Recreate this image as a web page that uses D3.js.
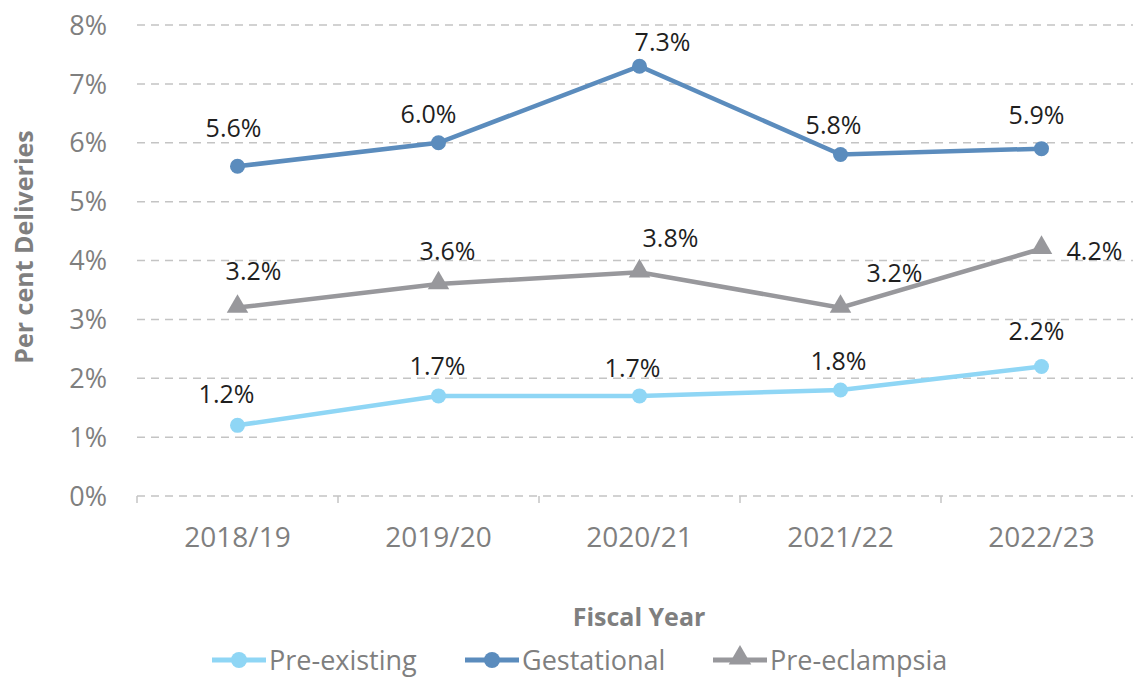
<!DOCTYPE html>
<html>
<head>
<meta charset="utf-8">
<script src="https://cdn.jsdelivr.net/npm/d3@7"></script>
<style>
  body { margin: 0; background: #fff; }
  text { font-family: "Open Sans", sans-serif; }
</style>
</head>
<body>
<svg id="chart"></svg>
<script>
const years = ["2018/19", "2019/20", "2020/21", "2021/22", "2022/23"];
const preExisting = [1.2, 1.7, 1.7, 1.8, 2.2];
const gestational = [5.6, 6.0, 7.3, 5.8, 5.9];
const preEclampsia = [3.2, 3.6, 3.8, 3.2, 4.2];
const yTicks = [0, 1, 2, 3, 4, 5, 6, 7, 8];

const width = 1133;
const height = 677;
const margin = {top: 25, right: -9, bottom: 181, left: 137};

const svg = d3.select("#chart")
    .attr("width", width)
    .attr("height", height);

const x = d3.scaleBand()
    .domain(years)
    .range([margin.left, width - margin.right]);

const y = d3.scaleLinear()
    .domain([0, 8])
    .range([height - margin.bottom, margin.top]);

// gridlines
svg.append("g")
    .selectAll("line")
    .data(yTicks)
    .enter()
    .append("line")
    .attr("x1", margin.left)
    .attr("x2", width)
    .attr("y1", d => y(d))
    .attr("y2", d => y(d))
    .attr("stroke", "#c4c4c4")
    .attr("stroke-width", 1.5)
    .attr("stroke-dasharray", "8,6");

// y tick labels
svg.append("g")
    .selectAll("text")
    .data(yTicks)
    .enter()
    .append("text")
    .attr("x", 107)
    .attr("y", d => y(d))
    .attr("dy", "0.36em")
    .attr("text-anchor", "end")
    .attr("font-size", "27px")
    .attr("fill", "#7f7f7f")
    .text(d => d + "%");

// x axis ticks + labels
const xTickPos = years.map(d => x(d)).concat([width - margin.right]);
svg.append("g")
    .selectAll("line")
    .data(xTickPos)
    .enter()
    .append("line")
    .attr("x1", d => d)
    .attr("x2", d => d)
    .attr("y1", y(0))
    .attr("y2", y(0) + 7)
    .attr("stroke", "#c4c4c4")
    .attr("stroke-width", 1.5);

svg.append("g")
    .selectAll("text")
    .data(years)
    .enter()
    .append("text")
    .attr("x", d => x(d) + x.bandwidth() / 2)
    .attr("y", 547)
    .attr("text-anchor", "middle")
    .attr("font-size", "28px")
    .attr("fill", "#7f7f7f")
    .text(d => d);

// axis titles
svg.append("text")
    .attr("transform", "translate(33,247) rotate(-90)")
    .attr("text-anchor", "middle")
    .attr("font-size", "25px")
    .attr("font-weight", "bold")
    .attr("fill", "#7f7f7f")
    .text("Per cent Deliveries");

svg.append("text")
    .attr("x", 639)
    .attr("y", 626)
    .attr("text-anchor", "middle")
    .attr("font-size", "25px")
    .attr("font-weight", "bold")
    .attr("fill", "#7f7f7f")
    .text("Fiscal Year");

// label offsets (dx, dy of the label centre from its point)
const series = [
    {name: "Pre-existing", values: preExisting, color: "#8fd6f5", marker: "circle",
     labels: [[-11, -31], [-1, -30], [-7, -28], [-2, -29], [-5, -35]]},
    {name: "Gestational", values: gestational, color: "#5b8cbd", marker: "circle",
     labels: [[-4, -38], [-10, -29], [23, -24], [-7, -30], [-5, -34]]},
    {name: "Pre-eclampsia", values: preEclampsia, color: "#98989c", marker: "triangle",
     labels: [[16, -37], [9, -33], [31, -34], [54, -35], [53, 2]]}
];

const line = d3.line()
    .x((d, i) => x(years[i]) + x.bandwidth() / 2)
    .y(d => y(d));

const triangle = d3.symbol().type(d3.symbolTriangle).size(200);

series.forEach(s => {
    const g = svg.append("g");
    g.append("path")
        .datum(s.values)
        .attr("fill", "none")
        .attr("stroke", s.color)
        .attr("stroke-width", 4.5)
        .attr("d", line);

    const pts = g.selectAll("g.pt")
        .data(s.values)
        .enter()
        .append("g")
        .attr("transform", (d, i) => "translate(" + (x(years[i]) + x.bandwidth() / 2) + "," + y(d) + ")");

    if (s.marker === "circle") {
        pts.append("circle").attr("r", 7.5).attr("fill", s.color);
    } else {
        pts.append("path").attr("d", triangle).attr("transform", "translate(0,-1)").attr("fill", s.color);
    }

    pts.append("text")
        .attr("x", (d, i) => s.labels[i][0])
        .attr("y", (d, i) => s.labels[i][1])
        .attr("dy", "0.36em")
        .attr("text-anchor", "middle")
        .attr("font-size", "25px")
        .attr("fill", "#1f1f1f")
        .text(d => d.toFixed(1) + "%");
});

// legend
const legendX = [212, 465, 713];
const legend = svg.append("g")
    .selectAll("g")
    .data(series)
    .enter()
    .append("g")
    .attr("transform", (d, i) => "translate(" + legendX[i] + ",660)");

legend.append("line")
    .attr("x1", 0).attr("x2", 54)
    .attr("stroke", d => d.color)
    .attr("stroke-width", 5);

legend.each(function(d) {
    const g = d3.select(this);
    if (d.marker === "circle") {
        g.append("circle").attr("cx", 27).attr("r", 8).attr("fill", d.color);
    } else {
        g.append("path").attr("d", d3.symbol().type(d3.symbolTriangle).size(220))
            .attr("transform", "translate(27,-2)").attr("fill", d.color);
    }
});

legend.append("text")
    .attr("x", 57)
    .attr("y", 0)
    .attr("dy", "0.36em")
    .attr("font-size", "27px")
    .attr("fill", "#7f7f7f")
    .text(d => d.name);
</script>
</body>
</html>
